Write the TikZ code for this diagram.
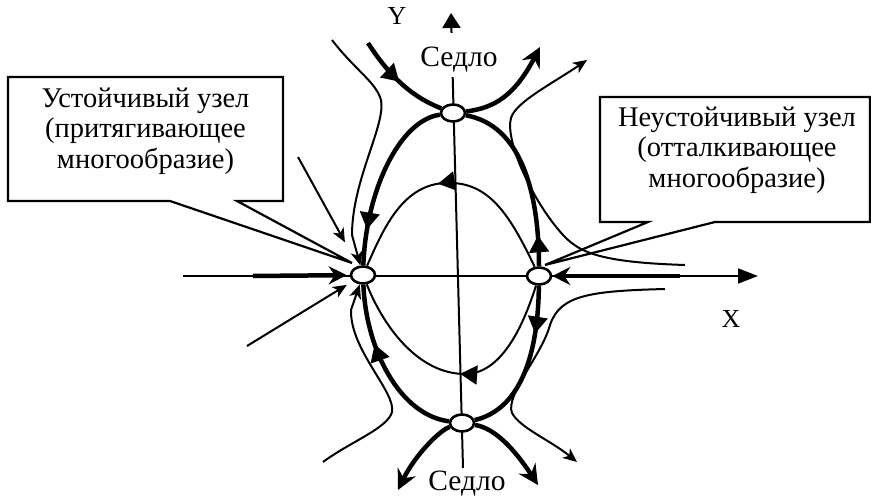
\documentclass[tikz,border=0pt]{standalone}
\usepackage{fontspec}
\setmainfont{Liberation Serif}
\usetikzlibrary{arrows.meta,shapes.geometric,decorations.markings,backgrounds}

\begin{document}
\begin{tikzpicture}[x=1pt, y=-1pt,
	tn/.style = {line width=2pt},
	th/.style = {line width=4.5pt},
	pt/.style = {ellipse, draw, line width=2.6pt, fill=white, minimum width=24pt, minimum height=17pt, inner sep=0pt},
	bx/.style = {draw, line width=2.2pt, line join=miter},
	tx/.style = {align=center, font=\fontsize{28.5}{30.5}\selectfont},
	lb/.style = {font=\fontsize{29.5}{30}\selectfont, anchor=base, inner sep=0pt},
	ar/.style = {-{Stealth[length=14pt, width=12pt, inset=4pt]}},
	br/.style = {-{Stealth[length=20pt, width=20pt, inset=7pt]}},
	md/.style = {postaction={decorate}, decoration={markings, mark=at position #1 with {\arrow{Triangle[length=17pt, width=19pt]}}}}
	]
	\useasboundingbox (0,0) rectangle (871,497);

	%Nodes
	\node[pt]	(sT)	at	(453,113)	{};
	\node[pt]	(uS)	at	(363,275)	{};
	\node[pt]	(uU)	at	(539,276)	{};
	\node[pt]	(sB)	at	(462,423)	{};

	\node[lb, fill=white, text height=34pt, text depth=10pt, inner xsep=3pt]	(sdT)	at	(459,67)	{Седло};
	\node[lb]	(sdB)	at	(467,490)	{Седло};
	\node[lb, font=\fontsize{26}{28}\selectfont]	(ly)	at	(397,25)	{Y};
	\node[lb, font=\fontsize{26}{28}\selectfont]	(lx)	at	(731,328)	{X};

	\node[tx]	(lt)	at	(145.5,131)	{Устойчивый узел\\(притягивающее\\многообразие)};
	\node[tx]	(rt)	at	(737,150)	{Неустойчивый узел\\(отталкивающее\\многообразие)};

	%Free ends
	\coordinate	(yb)	at	(463,468);
	\coordinate	(yt)	at	(451,13);
	\coordinate	(xl)	at	(183,276);
	\coordinate	(xr)	at	(758,276);
	\coordinate	(xa)	at	(253,276);
	\coordinate	(xb)	at	(680,276);
	\coordinate	(a1)	at	(368,43);
	\coordinate	(a2)	at	(540,47);
	\coordinate	(a3)	at	(398,490);
	\coordinate	(a4)	at	(538,485);
	\coordinate	(c1)	at	(332,40);
	\coordinate	(c2)	at	(323,462);
	\coordinate	(d1)	at	(298,157);
	\coordinate	(d2)	at	(247,346);
	\coordinate	(e1)	at	(685,265);
	\coordinate	(e2)	at	(587,60);
	\coordinate	(f1)	at	(665,289);
	\coordinate	(f2)	at	(577,462);
	\coordinate	(lp)	at	(352,263);
	\coordinate	(rp)	at	(545,265);

	\begin{scope}[on background layer]
	%Boxes
	\draw[bx]	(8,77) -- (283,77) -- (283,201) -- (237,201) -- (lp) -- (170,201) -- (8,201) -- cycle;
	\draw[bx]	(600,97) -- (870,97) -- (870,222) -- (715,222) -- (rp) -- (648,222) -- (600,222) -- cycle;

	%Axes
	\draw[tn, -{Triangle[length=15pt, width=18pt]}]	(yb) -- (yt);
	\draw[tn, -{Triangle[length=20pt, width=15pt]}]	(xl) -- (xr);
	\draw[th, -{Stealth[length=18pt, width=18pt, inset=6pt]}, shorten >=3pt]	(xa) -- (uS);
	\draw[th, -{Stealth[length=18pt, width=18pt, inset=6pt]}]	(xb) -- (uU);

	%Separatrices
	\draw[th, md=0.8]	(sT) .. controls (400,120) and (366,190) .. (uS);
	\draw[th, md=0.65]	(sB) .. controls (400,415) and (366,350) .. (uS);
	\draw[th, md=0.17]	(uU) .. controls (539,190) and (520,125) .. (sT);
	\draw[th, md=0.3]	(uU) .. controls (538,360) and (518,410) .. (sB);
	\draw[th, md=0.5]	(a1) .. controls (395,85) and (420,100) .. (sT);
	\draw[th, br]	(sT) .. controls (495,108) and (515,95) .. (a2);
	\draw[th, br]	(sB) .. controls (440,430) and (415,455) .. (a3);
	\draw[th, br]	(sB) .. controls (495,428) and (515,450) .. (a4);

	%Trajectories
	\draw[tn, md=0.55]	(uU) .. controls (510,215) and (490,185) .. (453,183) .. controls (405,180) and (385,225) .. (uS);
	\draw[tn, md=0.48]	(uU) .. controls (522,330) and (500,374) .. (465,374) .. controls (420,374) and (385,330) .. (uS);
	\draw[tn, ar]	(c1) .. controls (355,70) and (376,82) .. (381,100) .. controls (386,125) and (352,180) .. (352,235) -- (uS);
	\draw[tn, ar]	(c2) .. controls (350,442) and (388,428) .. (392,412) .. controls (396,392) and (350,350) .. (351,310) -- (uS);
	\draw[tn, ar, shorten >=27pt]	(d1) -- (uS);
	\draw[tn, ar, shorten >=7pt]	(d2) -- (uS);
	\draw[tn, ar]	(e1) .. controls (590,262) and (575,250) .. (557,228) .. controls (530,195) and (505,140) .. (511,118) .. controls (516,102) and (550,85) .. (e2);
	\draw[tn, ar]	(f1) .. controls (590,291) and (560,295) .. (550,325) .. controls (542,355) and (505,395) .. (512,413) .. controls (520,428) and (550,440) .. (f2);
	\end{scope}
\end{tikzpicture}
\end{document}
